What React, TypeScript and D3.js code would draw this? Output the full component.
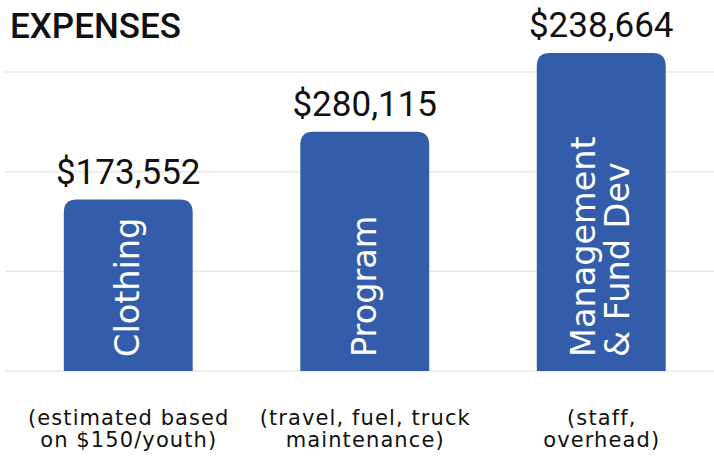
import React from "react";
import * as d3 from "d3";

const categories = ["Clothing", "Program", "Management & Fund Dev"];
const barLabelLines = [["Clothing"], ["Program"], ["Management", "& Fund Dev"]];
const barValues = [172000, 240000, 319000];
const valueLabels = ["$173,552", "$280,115", "$238,664"];
const noteLines = [
  ["(estimated based", "on $150/youth)"],
  ["(travel, fuel, truck", "maintenance)"],
  ["(staff,", "overhead)"],
];
const gridTicks = [0, 100000, 200000, 300000];

const W = 714;
const H = 458;

function roundedTopBar(x: number, y: number, w: number, h: number, r: number) {
  const rr = Math.min(r, w / 2, h);
  return `M${x},${y + h}V${y + rr}Q${x},${y} ${x + rr},${y}H${x + w - rr}Q${x + w},${y} ${x + w},${y + rr}V${y + h}Z`;
}

export default function App() {
  const x = d3.scaleBand<string>().domain(categories).range([10, 719.5]).paddingInner(0.455).paddingOuter(0.2275);
  const y = d3.scaleLinear().domain([0, 300000]).range([371, 72]);
  const bw = x.bandwidth();
  return (
    <svg width={W} height={H} style={{ position: "absolute", left: 0, top: 0, background: "#fff" }}>
      <text x={10} y={38} fontFamily="Roboto" fontWeight={500} fontSize={35} fill="#111">EXPENSES</text>
      {gridTicks.map((t) => (
        <line key={t} x1={5} x2={W} y1={y(t)} y2={y(t)} stroke="#e8e8e8" strokeWidth={1.5} />
      ))}
      {categories.map((c, i) => {
        const x0 = x(c)!;
        const cx = x0 + bw / 2;
        const top = y(barValues[i]);
        const lines = barLabelLines[i];
        const lh = 34;
        return (
          <g key={c}>
            <path d={roundedTopBar(x0, top, bw, y(0) - top, 13)} fill="#335DAB" />
            <text x={cx} y={top - 16} textAnchor="middle" fontFamily="Roboto" fontSize={35} fill="#111">
              {valueLabels[i]}
            </text>
            <g transform={`translate(${cx},${y(0) - 14}) rotate(-90)`}>
              {lines.map((l, j) => (
                <text key={j} x={0} y={(j - (lines.length - 1) / 2) * lh + 11} fontFamily="DejaVu Sans" fontSize={33.5} fill="#fff">
                  {l}
                </text>
              ))}
            </g>
            {noteLines[i].map((l, j) => (
              <text key={j} x={cx + 0.5} y={425 + j * 22} textAnchor="middle" fontFamily="DejaVu Sans" fontSize={21} letterSpacing={1.1} fill="#111">
                {l}
              </text>
            ))}
          </g>
        );
      })}
    </svg>
  );
}
